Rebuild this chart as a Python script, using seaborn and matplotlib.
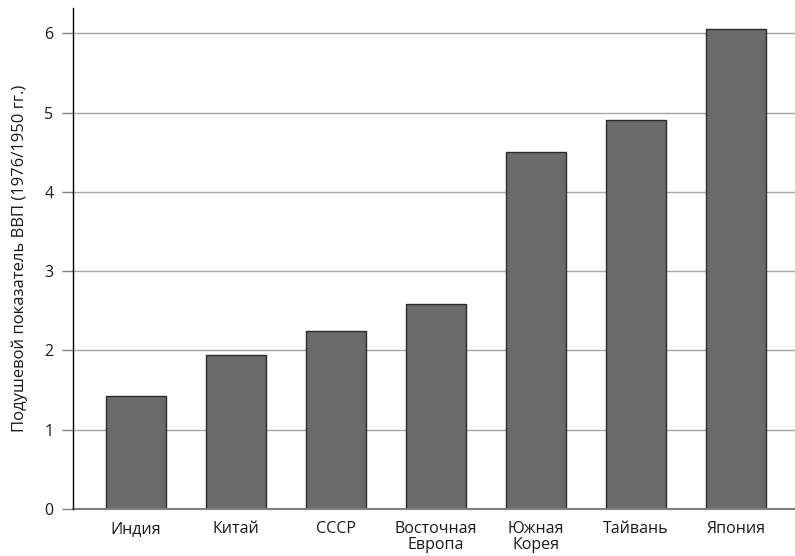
import numpy as np
import pandas as pd
import matplotlib
matplotlib.use("Agg")
import matplotlib.pyplot as plt
import seaborn as sns

# data
countries = ["Индия", "Китай", "СССР", "Восточная\nЕвропа", "Южная\nКорея", "Тайвань", "Япония"]
gdp_ratio = [1.43, 1.94, 2.24, 2.59, 4.51, 4.91, 6.06]
y_ticks = [0, 1, 2, 3, 4, 5, 6]

df = pd.DataFrame({"country": countries, "ratio": gdp_ratio})

sns.set_style("white")
plt.rcParams["font.family"] = ["Open Sans", "DejaVu Sans"]

fig = plt.figure(figsize=(7.95, 5.56), dpi=100)
ax = fig.add_axes([0.0918, 0.0845, 0.9082, 0.901])

sns.barplot(data=df, x="country", y="ratio", ax=ax, color="#6b6b6b",
            saturation=1, width=0.6, edgecolor="#2a2a2a", linewidth=1.0, zorder=3)

ax.set_ylim(0, 6.32)
ax.set_xlim(-0.63, 6.59)
ax.set_yticks(y_ticks)
ax.set_yticklabels([str(t) for t in y_ticks], fontsize=11.5, color="#1a1a1a")
ax.yaxis.grid(True, color="#a8a8a8", linewidth=1.0, zorder=0)
ax.axhline(0, color="#808080", linewidth=1.5, zorder=4, clip_on=False)

for s in ["top", "right", "bottom"]:
    ax.spines[s].set_visible(False)
ax.spines["left"].set_color("black")
ax.spines["left"].set_linewidth(1.0)
ax.spines["left"].set_zorder(5)

ax.tick_params(axis="y", which="both", left=True, length=8, width=1, color="#808080", pad=6)
ax.tick_params(axis="x", bottom=False, labelsize=11.5, labelcolor="#1a1a1a", pad=5)
for lbl in ax.get_xticklabels():
    lbl.set_linespacing(1.0)
ax.set_xlabel("")
ax.set_ylabel("Подушевой показатель ВВП (1976/1950 гг.)", fontsize=12, color="#1a1a1a", labelpad=12)

plt.savefig("out.png", dpi=100)
